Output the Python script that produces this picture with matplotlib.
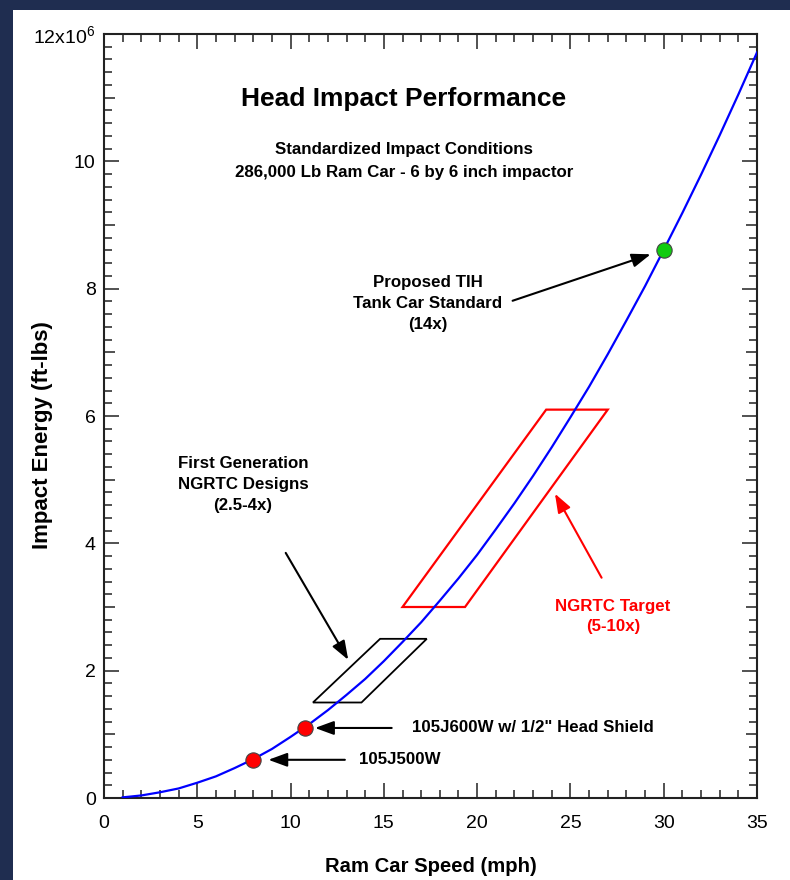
import matplotlib
matplotlib.use("Agg")
import matplotlib.pyplot as plt
from matplotlib.patches import Rectangle, Polygon
from matplotlib.ticker import MultipleLocator, FuncFormatter

plt.rcParams['font.family'] = ['Liberation Sans', 'DejaVu Sans']
plt.rcParams['mathtext.fontset'] = 'custom'
plt.rcParams['mathtext.rm'] = 'Liberation Sans'
plt.rcParams['mathtext.it'] = 'Liberation Sans:italic'
plt.rcParams['mathtext.bf'] = 'Liberation Sans:bold'

# ---- data (energy in 10^6 ft-lbs) ----
speed_mph = [1, 2, 3, 4, 5, 6, 7, 8, 9, 10, 11, 12, 13, 14, 15, 16, 17, 18,
             19, 20, 21, 22, 23, 24, 25, 26, 27, 28, 29, 30, 31, 32, 33, 34, 35]
energy_m = [0.01, 0.04, 0.09, 0.15, 0.24, 0.34, 0.47, 0.61, 0.77, 0.96,
            1.16, 1.38, 1.62, 1.87, 2.15, 2.45, 2.76, 3.10, 3.45, 3.82,
            4.22, 4.63, 5.06, 5.51, 5.98, 6.46, 6.97, 7.50, 8.04, 8.61,
            9.19, 9.79, 10.41, 11.05, 11.71]

red_pt_speed = [8.0, 10.8]
red_pt_energy = [0.6, 1.1]
red_pt_labels = ['105J500W', '105J600W w/ 1/2" Head Shield']
green_pt_speed = [30.0]
green_pt_energy = [8.6]

first_gen_x = [11.2, 13.8, 17.3, 14.8]
first_gen_y = [1.5, 1.5, 2.5, 2.5]
target_x = [16.0, 19.35, 27.0, 23.7]
target_y = [3.0, 3.0, 6.1, 6.1]

x_ticks = [0, 5, 10, 15, 20, 25, 30, 35]
y_ticks = [0, 2, 4, 6, 8, 10, 12]

NAVY = '#1f2d50'
W, H = 790, 880
fig = plt.figure(figsize=(W / 100, H / 100), dpi=100, facecolor=NAVY)
fig.add_artist(Rectangle((13 / W, 0), 1, 1 - 10 / H, transform=fig.transFigure,
                         facecolor='white', edgecolor='none', zorder=0))

ax = fig.add_axes([104 / W, (H - 798) / H, (757 - 104) / W, (798 - 34) / H])
ax.set_xlim(0, 35)
ax.set_ylim(0, 12)

ax.plot(speed_mph, energy_m, color='#0000ff', lw=1.6, zorder=3)

ax.add_patch(Polygon(list(zip(first_gen_x, first_gen_y)), closed=True,
                     fill=False, edgecolor='black', lw=1.3, zorder=2))
ax.add_patch(Polygon(list(zip(target_x, target_y)), closed=True,
                     fill=False, edgecolor='#ff0000', lw=1.6, zorder=2))

ax.plot(red_pt_speed, red_pt_energy, 'o', ms=11, mfc='#ff0000', mec='#444444',
        mew=0.8, zorder=5)
ax.plot(green_pt_speed, green_pt_energy, 'o', ms=11, mfc='#11cc11', mec='#444444',
        mew=0.8, zorder=5)

arrow_k = dict(arrowstyle='-|>,head_length=0.6,head_width=0.22', color='black',
               lw=1.5, shrinkA=0, shrinkB=0, mutation_scale=19)
arrow_r = dict(arrowstyle='-|>,head_length=0.6,head_width=0.22', color='#ff0000',
               lw=1.5, shrinkA=0, shrinkB=0, mutation_scale=19)

bold = dict(fontweight='bold', fontsize=12.2)

# 105J500W
ax.annotate('', xy=(8.81, red_pt_energy[0]), xytext=(12.91, red_pt_energy[0]),
            arrowprops=arrow_k)
ax.text(13.68, red_pt_energy[0], red_pt_labels[0], ha='left', va='center', **bold)
# 105J600W
ax.annotate('', xy=(11.31, red_pt_energy[1]), xytext=(15.42, red_pt_energy[1]),
            arrowprops=arrow_k)
ax.text(16.49, red_pt_energy[1], red_pt_labels[1], ha='left', va='center', **bold)
# TIH
ax.annotate('', xy=(29.3, 8.54), xytext=(21.9, 7.81), arrowprops=arrow_k)
ax.text(17.36, 7.76, 'Proposed TIH\nTank Car Standard\n(14x)', ha='center',
        va='center', linespacing=1.5, **bold)
# First generation
ax.annotate('', xy=(13.09, 2.17), xytext=(9.74, 3.85), arrowprops=arrow_k)
ax.text(7.45, 4.92, 'First Generation\nNGRTC Designs\n(2.5-4x)', ha='center',
        va='center', linespacing=1.5, **bold)
# NGRTC target
ax.annotate('', xy=(24.17, 4.78), xytext=(26.67, 3.46), arrowprops=arrow_r)
ax.text(27.28, 2.85, 'NGRTC Target\n(5-10x)', ha='center', va='center',
        linespacing=1.36, color='#ff0000', **bold)

# titles
ax.text(16.08, 10.98, 'Head Impact Performance', ha='center', va='center',
        fontsize=19, fontweight='bold')
ax.text(16.08, 10.19, 'Standardized Impact Conditions', ha='center', va='center', **bold)
ax.text(16.08, 9.82, '286,000 Lb Ram Car - 6 by 6 inch impactor', ha='center',
        va='center', **bold)

# ticks
ax.set_xticks(x_ticks)
ax.xaxis.set_minor_locator(MultipleLocator(1))
ax.yaxis.set_major_locator(MultipleLocator(1))
ax.yaxis.set_minor_locator(MultipleLocator(0.2))


def yfmt(v, pos):
    iv = int(round(v))
    if iv not in y_ticks:
        return ''
    if iv == 12:
        return '12x10$^{6}$'
    return str(iv)


ax.yaxis.set_major_formatter(FuncFormatter(yfmt))
ax.tick_params(which='both', direction='in', top=True, right=True, width=1.1,
               color='#222222', labelsize=14)
ax.tick_params(which='major', length=11)
ax.tick_params(which='minor', length=5.5)
ax.tick_params(axis='x', which='major', pad=12)
ax.tick_params(axis='y', which='major', pad=6)
for t, loc in zip(ax.yaxis.get_major_ticks(), ax.yaxis.get_majorticklocs()):
    if int(round(loc)) % 2 == 1:
        t.tick1line.set_markersize(8)
        t.tick2line.set_markersize(8)
for sp in ax.spines.values():
    sp.set_linewidth(1.5)
    sp.set_color('#222222')

fig.text(431 / W, (H - 871.5) / H, 'Ram Car Speed (mph)', ha='center',
         va='baseline', fontsize=14.6, fontweight='bold')
fig.text(48 / W, (H - 435) / H, 'Impact Energy (ft-lbs)', ha='center',
         va='baseline', rotation=90, rotation_mode='anchor', fontsize=16,
         fontweight='bold')

fig.savefig('out.png', dpi=100, facecolor=NAVY)
